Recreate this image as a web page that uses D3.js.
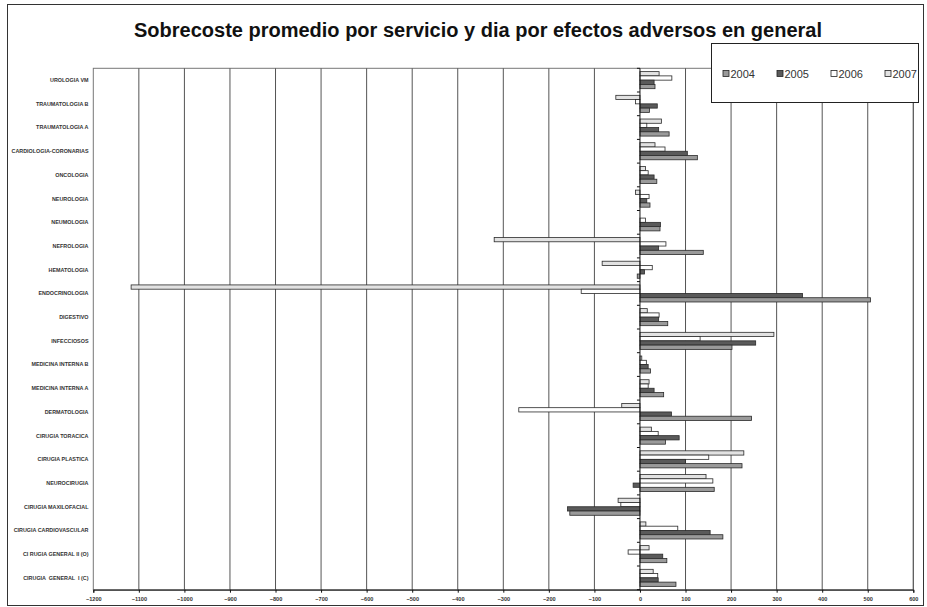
<!DOCTYPE html>
<html>
<head>
<meta charset="utf-8">
<script src="https://cdn.jsdelivr.net/npm/d3@7"></script>
<style>
  html, body { margin: 0; padding: 0; background: #fff; }
  svg { display: block; font-family: "Liberation Sans", Arial, sans-serif; }
  .cat { white-space: pre; }
</style>
</head>
<body>
<svg id="chart" width="927" height="607"></svg>
<script>
// Services, listed top to bottom
const categories = [
  "UROLOGIA VM",
  "TRAUMATOLOGIA B",
  "TRAUMATOLOGIA A",
  "CARDIOLOGIA-CORONARIAS",
  "ONCOLOGIA",
  "NEUROLOGIA",
  "NEUMOLOGIA",
  "NEFROLOGIA",
  "HEMATOLOGIA",
  "ENDOCRINOLOGIA",
  "DIGESTIVO",
  "INFECCIOSOS",
  "MEDICINA INTERNA B",
  "MEDICINA INTERNA A",
  "DERMATOLOGIA",
  "CIRUGIA TORACICA",
  "CIRUGIA PLASTICA",
  "NEUROCIRUGIA",
  "CIRUGIA MAXILOFACIAL",
  "CIRUGIA CARDIOVASCULAR",
  "CI RUGIA GENERAL II (O)",
  "CIRUGIA  GENERAL  I (C)"
];

// Average extra cost per service and day, one array per year (same order as categories)
const values2004 = [33, 21, 64, 126, 37, 22, 44, 139, -6, 506, 61, 202, 23, 52, 245, 56, 224, 163, -154, 182, 59, 79];
const values2005 = [31, 38, 41, 104, 31, 15, 45, 41, 10, 357, 41, 254, 18, 31, 69, 86, 100, -15, -159, 154, 50, 40];
const values2006 = [70, -10, 15, 55, 18, 20, 12, 57, 27, -129, 42, 132, 14, 18, -266, 40, 151, 160, -42, 83, -26, 39];
const values2007 = [42, -53, 47, 33, 12, -10, 0, -320, -83, -1117, 16, 294, 4, 20, -40, 25, 228, 145, -48, 13, 20, 29];

const years = ["2004", "2005", "2006", "2007"];
const xTicks = [-1200, -1100, -1000, -900, -800, -700, -600, -500, -400, -300, -200, -100, 0, 100, 200, 300, 400, 500, 600];

const seriesValues = { "2004": values2004, "2005": values2005, "2006": values2006, "2007": values2007 };
const fills = { "2004": "#9a9a9a", "2005": "#5a5a5a", "2006": "#ffffff", "2007": "#e2e2e2" };
// Within each service the bars run 2007 at the top down to 2004
const stackOrder = ["2007", "2006", "2005", "2004"];

const svg = d3.select("#chart");

// Outer frame
svg.append("rect")
  .attr("x", 7.5).attr("y", 4.5)
  .attr("width", 916).attr("height", 601)
  .attr("fill", "#fff").attr("stroke", "#333").attr("stroke-width", 1);

// Title
svg.append("text")
  .attr("x", 478).attr("y", 37)
  .attr("text-anchor", "middle")
  .attr("font-size", 20).attr("font-weight", "bold")
  .attr("fill", "#111")
  .text("Sobrecoste promedio por servicio y dia por efectos adversos en general");

const plot = { left: 93.3, right: 913.3, top: 68.3, bottom: 589.7 };

const x = d3.scaleLinear().domain([-1200, 600]).range([plot.left, plot.right]);
const y = d3.scaleBand().domain(categories).range([plot.top, plot.bottom])
  .paddingInner(0.28).paddingOuter(0.14);
const yInner = d3.scaleBand().domain(stackOrder).range([0, y.bandwidth()]);

// Plot area border
svg.append("rect")
  .attr("x", plot.left).attr("y", plot.top)
  .attr("width", plot.right - plot.left).attr("height", plot.bottom - plot.top)
  .attr("fill", "none").attr("stroke", "#777").attr("stroke-width", 1);

// Vertical gridlines
svg.append("g")
  .selectAll("line")
  .data(xTicks.filter(t => t !== 0 && t !== -1200))
  .join("line")
  .attr("x1", d => x(d)).attr("x2", d => x(d))
  .attr("y1", plot.top).attr("y2", plot.bottom)
  .attr("stroke", "#555").attr("stroke-width", 1);

// Bars
const groups = svg.append("g")
  .selectAll("g")
  .data(categories)
  .join("g")
  .attr("transform", d => `translate(0,${y(d)})`);

groups.selectAll("rect")
  .data((c, i) => stackOrder.map(yr => ({ year: yr, value: seriesValues[yr][i] })))
  .join("rect")
  .attr("x", d => x(Math.min(0, d.value)))
  .attr("width", d => Math.abs(x(d.value) - x(0)))
  .attr("y", d => yInner(d.year))
  .attr("height", yInner.bandwidth())
  .attr("fill", d => fills[d.year])
  .attr("stroke", "#2a2a2a")
  .attr("stroke-width", 0.8);

// Zero axis with category separators
svg.append("line")
  .attr("x1", x(0)).attr("x2", x(0))
  .attr("y1", plot.top).attr("y2", plot.bottom)
  .attr("stroke", "#111").attr("stroke-width", 1);
const step = y.step();
svg.append("g")
  .selectAll("line")
  .data(d3.range(categories.length + 1))
  .join("line")
  .attr("x1", x(0) - 3).attr("x2", x(0))
  .attr("y1", i => plot.top + i * step).attr("y2", i => plot.top + i * step)
  .attr("stroke", "#111").attr("stroke-width", 1);

// Category labels
svg.append("g")
  .selectAll("text")
  .data(categories)
  .join("text")
  .attr("class", "cat")
  .attr("x", 88.5)
  .attr("y", d => y(d) + y.bandwidth() / 2)
  .attr("dy", "0.35em")
  .attr("text-anchor", "end")
  .attr("font-size", 5.4).attr("font-weight", "bold")
  .attr("fill", "#333")
  .text(d => d);

// Bottom value axis
const xAxis = d3.axisBottom(x).tickValues(xTicks).tickSize(3).tickPadding(4).tickFormat(d3.format("d"));
const gx = svg.append("g")
  .attr("transform", `translate(0,${plot.bottom})`)
  .call(xAxis);
gx.select(".domain").attr("stroke", "#111");
gx.selectAll(".tick line").attr("stroke", "#111");
gx.selectAll(".tick text")
  .attr("font-family", "'Liberation Sans', Arial, sans-serif")
  .attr("font-size", 5.6).attr("font-weight", "bold").attr("fill", "#333");

// Legend
const legend = svg.append("g");
legend.append("rect")
  .attr("x", 711.5).attr("y", 43.5)
  .attr("width", 207).attr("height", 59)
  .attr("fill", "#fff").attr("stroke", "#222").attr("stroke-width", 1);
const legendX = d3.scalePoint().domain(years).range([723, 885]);
const items = legend.selectAll("g.item")
  .data(years)
  .join("g")
  .attr("class", "item")
  .attr("transform", d => `translate(${legendX(d)},74)`);
items.append("rect")
  .attr("x", 0).attr("y", -3.5)
  .attr("width", 6).attr("height", 6)
  .attr("fill", d => fills[d]).attr("stroke", "#222").attr("stroke-width", 0.8);
items.append("text")
  .attr("x", 7.5).attr("y", 0)
  .attr("dy", "0.35em")
  .attr("font-size", 11).attr("fill", "#333")
  .text(d => d);
</script>
</body>
</html>
